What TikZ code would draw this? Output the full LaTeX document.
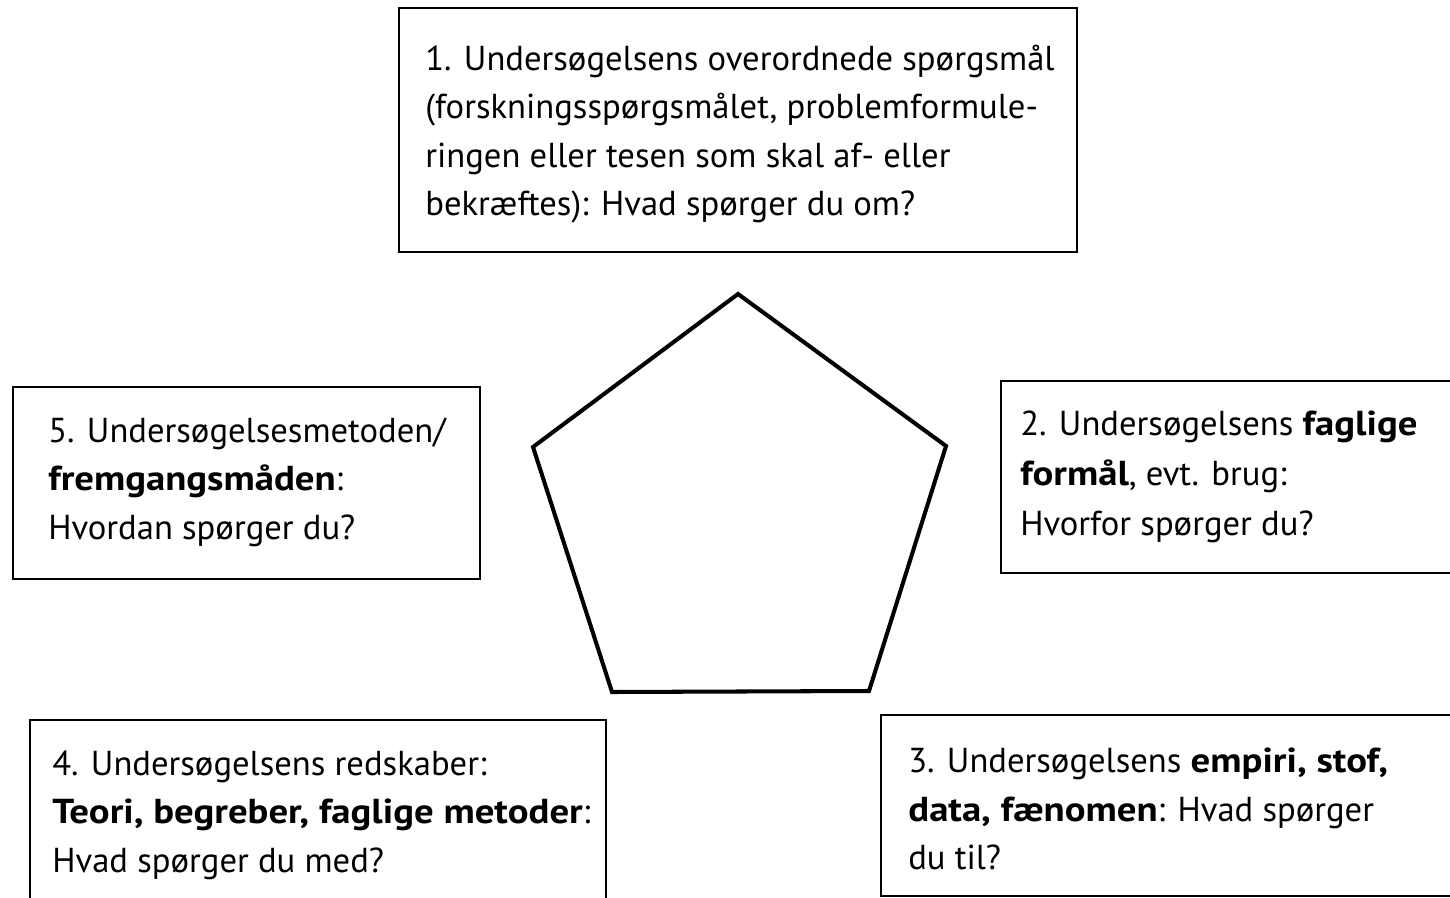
\documentclass[tikz,border=0pt]{standalone}
\usepackage{fontspec}
\setmainfont{PT Sans}[BoldFeatures={FakeStretch=1.12}]
\begin{document}
\begin{tikzpicture}[x=0.02cm,y=-0.02cm,
  frame/.style={draw=black,line width=1.4pt},
  txt/.style={anchor=west,align=left,inner sep=0pt,font=\fontsize{19.7}{27.6}\selectfont},
  pent/.style={draw=black,line width=2.3pt,line join=miter}]
\useasboundingbox (0,0) rectangle (1450,898);
\clip (0,0) rectangle (1450,898);
% boxes
\draw[frame] (399,8) rectangle (1077,252);
\draw[frame] (1001,381) rectangle (1470,573);
\draw[frame] (881,715) rectangle (1470,896);
\draw[frame] (30,720) rectangle (606,920);
\draw[frame] (13,387) rectangle (480,579);
% pentagon
\coordinate (p1) at (738,294);
\coordinate (p2) at (946,446);
\coordinate (p3) at (869,691);
\coordinate (p4) at (612,692);
\coordinate (p5) at (533,447);
\draw[pent] (p1) -- (p2) -- (p3) -- (p4) -- (p5) -- cycle;
% texts
\node[txt] (t1) at (425,134) {1. Undersøgelsens overordnede spørgsmål\\(forskningsspørgsmålet, problemformule-\\ringen eller tesen som skal af- eller\\bekræftes): Hvad spørger du om?};
\node[txt,font=\fontsize{19.7}{28.5}\selectfont] (t2) at (1020,477) {2. Undersøgelsens \textbf{faglige}\\\textbf{formål}, evt. brug:\\Hvorfor spørger du?};
\node[txt] (t3) at (908,809) {3. Undersøgelsens \textbf{empiri, stof,}\\\textbf{data, fænomen}: Hvad spørger\\du til?};
\node[txt] (t4) at (52,815) {4. Undersøgelsens redskaber:\\\textbf{Teori, begreber, faglige metoder}:\\Hvad spørger du med?};
\node[txt] (t5) at (48,482) {5. Undersøgelsesmetoden/\\\textbf{fremgangsmåden}:\\Hvordan spørger du?};
\end{tikzpicture}
\end{document}
